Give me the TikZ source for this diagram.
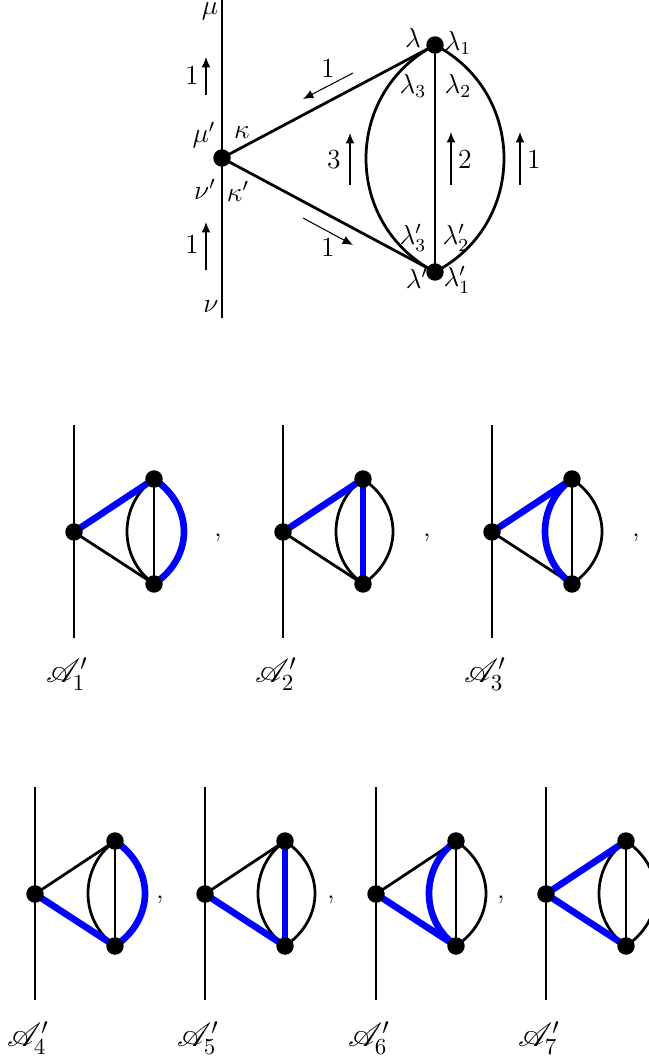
\documentclass[tikz,border=0pt]{standalone}
\usepackage{mathrsfs}
\usetikzlibrary{arrows.meta}
\newcommand\sdiag[3]{%
  \coordinate (#1c) at (#2,#3);
  \coordinate (#1t) at (#2+80,#3-53);
  \coordinate (#1b) at (#2+80,#3+52);
  \coordinate (#1u) at (#2,#3-107);
  \coordinate (#1d) at (#2,#3+106);
  \draw[ed] (#1u) -- (#1d);
  \draw[ed] (#1c) -- (#1t);
  \draw[ed] (#1c) -- (#1b);
  \draw[ed] (#1t) -- (#1b);
  \draw[ed] (#1t) .. controls +(-36,26) and +(-36,-26) .. (#1b);
  \draw[ed] (#1t) .. controls +(40,27) and +(40,-27) .. (#1b);
}
\newcommand\sdots[1]{%
  \node[vdot] (#1C) at (#1c) {};
  \node[vdot] (#1T) at (#1t) {};
  \node[vdot] (#1B) at (#1b) {};
}
\begin{document}
\begin{tikzpicture}[x=0.4348pt,y=-0.4348pt,
  ed/.style={line width=1.2pt},
  hl/.style={line width=2.9pt,blue},
  vdot/.style={circle,fill=black,inner sep=0pt,minimum size=7.6pt},
  arr/.style={line width=0.45pt,-{Latex[length=4.5pt,width=3.8pt]}},
  lab/.style={inner sep=0pt,font=\fontsize{11.5}{13}\selectfont},
  biglab/.style={inner sep=0pt,font=\Large}]
\useasboundingbox (0,0) rectangle (649,1061);
% ---------- top diagram ----------
\coordinate (mt) at (222,0);
\coordinate (mb) at (222,318);
\coordinate (C) at (222,158);
\coordinate (T) at (435,45);
\coordinate (B) at (435,272);
\draw[ed] (mt) -- (mb);
\draw[ed] (C) -- (T);
\draw[ed] (C) -- (B);
\draw[ed] (T) -- (B);
\draw[ed] (T) .. controls +(-92,48) and +(-92,-48) .. (B);
\draw[ed] (T) .. controls +(92,48) and +(92,-48) .. (B);
\node[vdot] (Cn) at (C) {};
\node[vdot] (Tn) at (T) {};
\node[vdot] (Bn) at (B) {};
% momentum arrows
\coordinate (a1s) at (206,95);  \coordinate (a1e) at (206,57);
\coordinate (a2s) at (206,270); \coordinate (a2e) at (206,222);
\coordinate (a3s) at (353,73);  \coordinate (a3e) at (303,99);
\coordinate (a4s) at (303,218); \coordinate (a4e) at (353,245);
\coordinate (a5s) at (350,185); \coordinate (a5e) at (350,133);
\coordinate (a6s) at (451,185); \coordinate (a6e) at (451,132);
\coordinate (a7s) at (520,185); \coordinate (a7e) at (520,132);
\foreach \i in {1,...,7} {\draw[arr] (a\i s) -- (a\i e);}
\node[lab] (n1) at (192,76) {$1$};
\node[lab] (n2) at (192,245) {$1$};
\node[lab] (n3) at (328,69) {$1$};
\node[lab] (n4) at (328,248) {$1$};
\node[lab] (n5) at (334,160) {$3$};
\node[lab] (n6) at (465,160) {$2$};
\node[lab] (n7) at (534,160) {$1$};
% index labels
\node[lab] (lmu) at (210,11) {$\mu$};
\node[lab] (lmup) at (204,135) {$\mu'$};
\node[lab] (lka) at (242,133) {$\kappa$};
\node[lab] (lnup) at (205,189) {$\nu'$};
\node[lab] (lkap) at (238,191) {$\kappa'$};
\node[lab] (lnu) at (211,307) {$\nu$};
\node[lab] (ll) at (413,38) {$\lambda$};
\node[lab] (ll1) at (458,43) {$\lambda_1$};
\node[lab] (ll3) at (413,86) {$\lambda_3$};
\node[lab] (ll2) at (458,86) {$\lambda_2$};
\node[lab] (ll3p) at (413,238) {$\lambda'_3$};
\node[lab] (ll2p) at (456,238) {$\lambda'_2$};
\node[lab] (llp) at (417,278) {$\lambda'$};
\node[lab] (ll1p) at (457,280) {$\lambda'_1$};
% ---------- row 2 ----------
\sdiag{p}{74}{532}
\draw[hl] (pc) -- (pt);
\draw[hl] (pt) .. controls +(40,27) and +(40,-27) .. (pb);
\sdots{p}
\sdiag{q}{283}{532}
\draw[hl] (qc) -- (qt);
\draw[hl] (qt) -- (qb);
\sdots{q}
\sdiag{r}{492}{532}
\draw[hl] (rc) -- (rt);
\draw[hl] (rt) .. controls +(-36,26) and +(-36,-26) .. (rb);
\sdots{r}
\node[lab] (c1) at (218,538) {,};
\node[lab] (c2) at (427,538) {,};
\node[lab] (c3) at (636,538) {,};
\node[biglab] (A1) at (67,674) {$\mathscr{A}'_1$};
\node[biglab] (A2) at (276,674) {$\mathscr{A}'_2$};
\node[biglab] (A3) at (485,674) {$\mathscr{A}'_3$};
% ---------- row 3 ----------
\sdiag{s}{35}{894}
\draw[hl] (sc) -- (sb);
\draw[hl] (st) .. controls +(40,27) and +(40,-27) .. (sb);
\sdots{s}
\sdiag{u}{205}{894}
\draw[hl] (uc) -- (ub);
\draw[hl] (ut) -- (ub);
\sdots{u}
\sdiag{v}{376}{894}
\draw[hl] (vc) -- (vb);
\draw[hl] (vt) .. controls +(-36,26) and +(-36,-26) .. (vb);
\sdots{v}
\sdiag{w}{546}{894}
\draw[hl] (wc) -- (wt);
\draw[hl] (wc) -- (wb);
\sdots{w}
\node[lab] (c4) at (160,900) {,};
\node[lab] (c5) at (331,900) {,};
\node[lab] (c6) at (501,900) {,};
\node[biglab] (A4) at (28,1038) {$\mathscr{A}'_4$};
\node[biglab] (A5) at (198,1038) {$\mathscr{A}'_5$};
\node[biglab] (A6) at (369,1038) {$\mathscr{A}'_6$};
\node[biglab] (A7) at (539,1038) {$\mathscr{A}'_7$};
\end{tikzpicture}
\end{document}
